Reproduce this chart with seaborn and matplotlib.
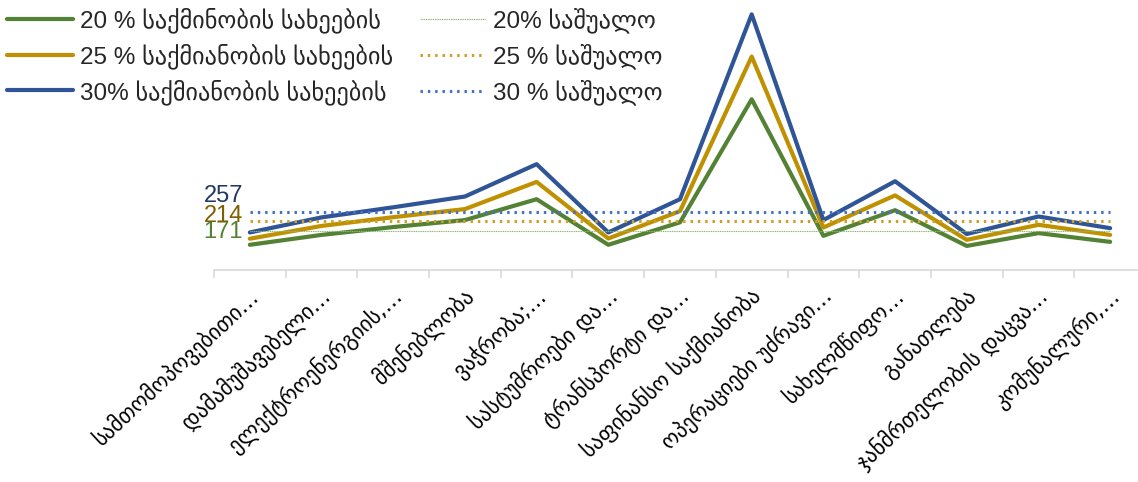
import matplotlib
matplotlib.use("Agg")
import matplotlib.pyplot as plt
import matplotlib.transforms as mtransforms
import seaborn as sns
import pandas as pd

sns.set_theme(style="white")
plt.rcParams["font.family"] = ["Liberation Sans", "DejaVu Sans"]

# Economic activity categories
categories = [
    "სამთომოპოვებითი…",
    "დამამუშავებელი…",
    "ელექტროენერგიის,…",
    "მშენებლობა",
    "ვაჭრობა;…",
    "სასტუმროები და…",
    "ტრანსპორტი და…",
    "საფინანსო საქმიანობა",
    "ოპერაციები უძრავი…",
    "სახელმწიფო…",
    "განათლება",
    "ჯანმრთელობის დაცვა…",
    "კომუნალური,…",
]

share_20 = [110, 154, 189, 220, 313, 110, 210, 758, 150, 264, 105, 162, 123]
share_25 = [137, 194, 233, 269, 390, 138, 260, 948, 187, 330, 132, 199, 154]
share_30 = [165, 232, 277, 325, 469, 165, 313, 1136, 220, 393, 158, 236, 184]

avg_20 = 171
avg_25 = 214
avg_30 = 257

series_labels = [
    "20 % საქმინობის სახეების",
    "25 % საქმიანობის სახეების",
    "30% საქმიანობის სახეების",
]
avg_labels = ["20% საშუალო", "25 % საშუალო", "30 % საშუალო"]

green, gold, blue = "#548235", "#BF9000", "#2F5597"
avg_colors = ["#8DB870", "#C9A227", "#4472C4"]
label_colors = ["#548235", "#7F6000", "#203864"]

df = pd.DataFrame({
    "category": categories,
    "s20": share_20,
    "s25": share_25,
    "s30": share_30,
    "a20": [avg_20] * len(categories),
    "a25": [avg_25] * len(categories),
    "a30": [avg_30] * len(categories),
})

fig = plt.figure(figsize=(11.38, 4.82), dpi=100)
ax = fig.add_axes([214 / 1138, 1 - 269.5 / 482, 932 / 1138, 269.5 / 482])

for col, color, lab in zip(["s20", "s25", "s30"], [green, gold, blue], series_labels):
    sns.lineplot(data=df, x="category", y=col, ax=ax, color=color, linewidth=3.0,
                 label=lab, sort=False)

sns.lineplot(data=df, x="category", y="a20", ax=ax, color=avg_colors[0], linewidth=0.8,
             linestyle=(0, (1, 0.6)), label=avg_labels[0], sort=False)
sns.lineplot(data=df, x="category", y="a25", ax=ax, color=avg_colors[1], linewidth=2.2,
             linestyle=(0, (0.8, 1.6)), label=avg_labels[1], sort=False)
sns.lineplot(data=df, x="category", y="a30", ax=ax, color=avg_colors[2], linewidth=2.2,
             linestyle=(0, (0.8, 1.6)), label=avg_labels[2], sort=False)

ax.set_ylim(0, 1200)
ax.set_xlim(-0.5, len(categories) - 0.5)
ax.set_xlabel("")
ax.set_ylabel("")
ax.set_yticks([])

for side in ["top", "right", "left"]:
    ax.spines[side].set_visible(False)
ax.spines["bottom"].set_color("#D9D9D9")
ax.spines["bottom"].set_linewidth(1.2)

ax.set_xticks(range(len(categories)))
ax.set_xticks([i - 0.5 for i in range(len(categories) + 1)], minor=True)
ax.tick_params(axis="x", which="major", length=0, pad=4)
ax.tick_params(axis="x", which="minor", length=6, width=1.2, color="#D9D9D9",
               bottom=True)
ax.set_xticklabels(categories, rotation=43, ha="right", va="top",
                   rotation_mode="anchor", fontsize=15.5, color="#000000",
                   family=["DejaVu Sans"])
for t in ax.get_xticklabels():
    t.set_transform(t.get_transform() + mtransforms.ScaledTranslation(
        -2 / 100, -9 / 100, fig.dpi_scale_trans))

# Average value labels at the left end of the average lines
offsets = [-0.7, 4, 11.5]
for val, c, dy in zip([avg_20, avg_25, avg_30], label_colors, offsets):
    ax.annotate(str(val), xy=(0, val), xytext=(-5, dy), textcoords="offset points",
                ha="right", va="center", fontsize=17, color=c)

ax.get_legend().remove()
h, l = ax.get_legend_handles_labels()
fig.legend(h, l, loc="upper left", bbox_to_anchor=(0.0, 1.0), ncol=2,
           frameon=False, fontsize=17.5, handlelength=2.7, handletextpad=0.3,
           columnspacing=1.1, labelspacing=0.42, borderaxespad=0.0,
           borderpad=0.3)

fig.savefig("out.png", dpi=100, facecolor="white")
